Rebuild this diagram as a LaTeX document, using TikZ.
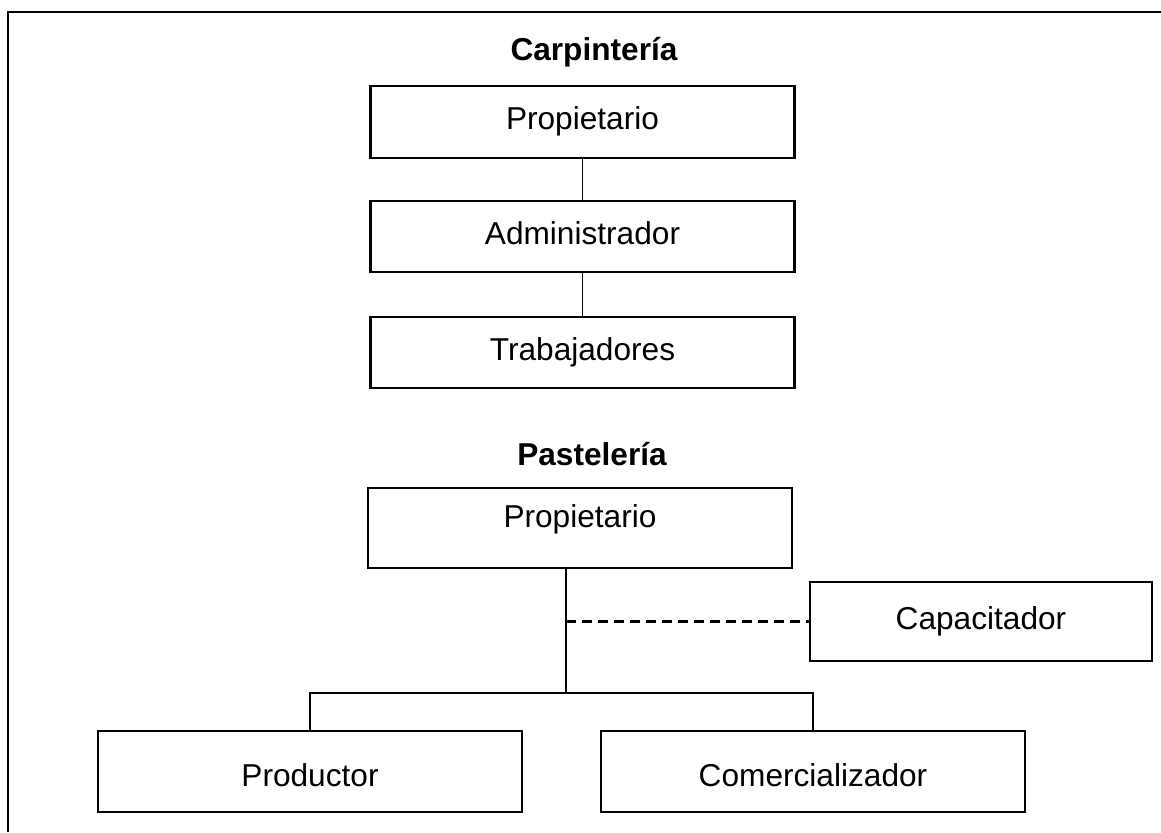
\documentclass[tikz,border=0pt]{standalone}
\usepackage{fontspec}
\setmainfont{Liberation Sans}

\begin{document}
\begin{tikzpicture}

    % --- Grundeinstellungen: estilos ---
    \tikzset{
        % caja de cada puesto
        puesto/.style={
            draw,
            line width=1.6pt,
            font=\fontsize{22.5}{27}\selectfont,
            align=center,
            inner sep=0pt,
            minimum width=10.6cm,
            text height=0.57cm,
            text depth=0.17cm
        },
        % titulo de cada empresa
        titulo/.style={
            font=\fontsize{22.5}{27}\selectfont\bfseries
        },
        % lineas de union
        linea/.style={
            line width=1.3pt
        },
        apoyo/.style={
            linea,
            line width=1.5pt,
            dash pattern=on 0.25cm off 0.15cm
        },
        marco/.style={
            line width=1.8pt
        }
    }

    \useasboundingbox (0,0) rectangle (29.025,20.8);

    % Marco (solo arriba e izquierda, el resto queda fuera)
    \draw[marco] (29.025,20.5) -- (0.2,20.5) -- (0.2,0);

    % --- 1. Carpinteria ---
    \node[titulo, anchor=base] (tituloC) at (14.85, 19.275) {Carpintería};
    \node[puesto, minimum height=1.8cm] (propC) at (14.5625, 17.75) {Propietario};
    \node[puesto, minimum height=1.775cm] (adminC) at (14.5625, 14.8875) {Administrador};
    \node[puesto, minimum height=1.775cm] (trabC) at (14.5625, 11.9875) {Trabajadores};

    \draw[linea] (propC) -- (adminC);
    \draw[linea] (adminC) -- (trabC);

    % --- 2. Pasteleria ---
    \node[titulo, anchor=base] (tituloP) at (14.8, 9.15) {Pastelería};
    \node[puesto, minimum height=2cm, text depth=0.57cm] (propP) at (14.5, 7.6) {Propietario};
    % Capacitador (apoyo externo, linea discontinua)
    \node[puesto, minimum width=8.55cm, minimum height=1.975cm] (capac) at (24.525, 5.2625) {Capacitador};
    % texto algo mas abajo en las cajas inferiores
    \node[puesto, minimum height=2.025cm, text height=0.94cm] (prod) at (7.75, 1.5125) {Productor};
    \node[puesto, minimum height=2.025cm, text height=0.94cm] (comer) at (20.325, 1.5125) {Comercializador};

    % punto donde se reparte la linea
    \coordinate (nudo) at (14.15, 3.475);

    \draw[linea] (propP.south -| nudo) -- (nudo);
    \draw[apoyo] (nudo |- capac.west) -- (capac.west);
    \draw[linea] (prod.north) |- (nudo) -| (comer.north);

\end{tikzpicture}
\end{document}
